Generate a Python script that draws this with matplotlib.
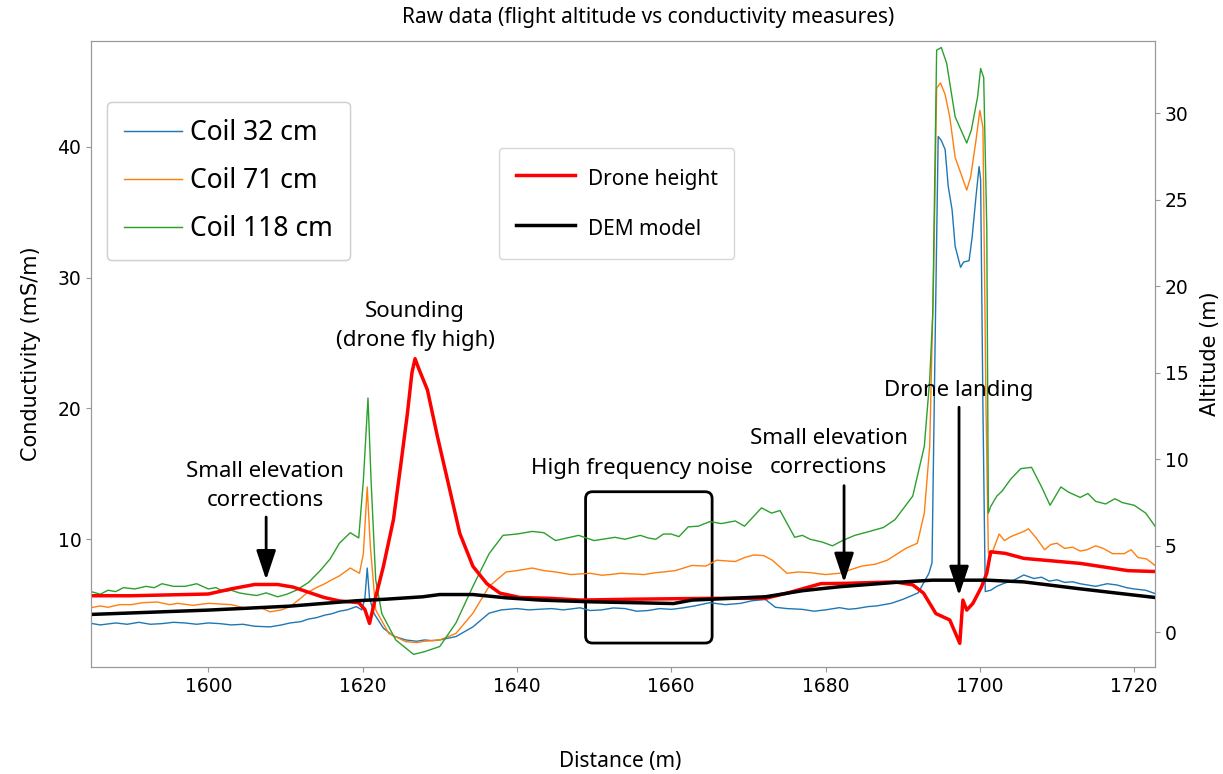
import numpy as np
import matplotlib
matplotlib.use('Agg')
import matplotlib.pyplot as plt
from matplotlib.patches import FancyBboxPatch

# ---- data ----
d_c32 = [1584.8, 1586, 1588, 1589.5, 1591, 1592.5, 1594, 1595.5, 1597, 1598.5, 1600, 1601.5, 1603, 1604.5, 1606,
         1608, 1609.5, 1610.6, 1612, 1613, 1614, 1615.1, 1616, 1617, 1618, 1619.2, 1619.9,
         1620.3, 1620.6, 1620.9, 1621.5, 1622.7, 1624, 1625.6, 1627, 1628, 1629, 1630, 1632.1, 1634.3, 1636.4, 1638,
         1640, 1641.5, 1643, 1644.5, 1646, 1648.2, 1649.5, 1651, 1652.5, 1654, 1655.5, 1657, 1658.5, 1660, 1661.5,
         1663, 1665, 1667, 1669, 1670.5, 1672.2, 1673.5, 1675, 1677, 1678.5, 1680, 1681.8, 1683,
         1684, 1685.5, 1686.6, 1688.5, 1690, 1692, 1693.4, 1693.8, 1694.2, 1694.6, 1695.0, 1695.5, 1695.9, 1696.4,
         1696.8, 1697.5, 1697.9, 1698.6, 1699.0, 1699.5, 1699.9, 1700.1, 1700.4, 1700.7, 1701.4, 1702.2, 1703,
         1704.5, 1705.7, 1707, 1708, 1709, 1710, 1711, 1712, 1713, 1714, 1715, 1716.5, 1717.8, 1719, 1720, 1721.5,
         1722.7]
c32 = [3.57, 3.45, 3.6, 3.5, 3.65, 3.5, 3.55, 3.65, 3.6, 3.5, 3.6, 3.55, 3.45, 3.5, 3.35,
       3.3, 3.45, 3.6, 3.7, 3.9, 4.0, 4.2, 4.3, 4.5, 4.6, 4.85, 4.6,
       5.5, 7.8, 5.5, 4.3, 3.2, 2.6, 2.3, 2.2, 2.3, 2.25, 2.3, 2.56, 3.3, 4.35, 4.6,
       4.7, 4.6, 4.65, 4.7, 4.6, 4.76, 4.55, 4.6, 4.75, 4.7, 4.5, 4.55, 4.7, 4.64, 4.75,
       4.9, 5.15, 5.0, 5.1, 5.3, 5.4, 4.8, 4.7, 4.64, 4.5, 4.6, 4.77, 4.65,
       4.7, 4.85, 4.9, 5.1, 5.4, 5.9, 7.4, 8.2, 25.0, 40.8, 40.5, 39.8, 37.0, 35.2,
       32.4, 30.8, 31.2, 31.3, 33.1, 36.2, 38.5, 37.5, 20.0, 6.0, 6.1, 6.4, 6.6,
       6.9, 7.27, 7.0, 7.1, 6.8, 6.9, 6.7, 6.75, 6.6, 6.5, 6.4, 6.6, 6.5, 6.3, 6.2, 6.1,
       5.85]

d_c71 = [1584.8, 1586, 1587, 1588.5, 1590, 1591.5, 1593.4, 1595, 1596, 1598, 1600, 1601.5, 1603, 1605, 1606.5,
         1608, 1609.5, 1610.6, 1612, 1612.8, 1614, 1615.1, 1616, 1617, 1618.4, 1619.6,
         1620.1, 1620.6, 1621.0, 1621.7, 1623.4, 1625.6, 1627, 1628, 1630, 1632.1, 1634.3, 1636.4, 1638.6, 1640,
         1642, 1643.5, 1645, 1647, 1649.5, 1651, 1652, 1653.5, 1655, 1656.5, 1658, 1659, 1660.5, 1662.7, 1664.5,
         1665.9, 1667, 1668.3, 1669.5, 1670.7, 1672, 1673.1, 1675, 1676.5, 1678, 1680, 1681.8,
         1684.7, 1686.5, 1688, 1690.4, 1691.9, 1692.8, 1693.5, 1694.0, 1694.4, 1694.9, 1695.5, 1696.1, 1696.8,
         1697.7, 1698.3, 1698.8, 1699.5, 1700.0, 1700.4, 1700.8, 1701.1, 1701.4, 1702.5, 1703.2, 1704, 1705.7,
         1706.3, 1707.3, 1708.4, 1709.2, 1710, 1711, 1712, 1713, 1713.9, 1715, 1716, 1717.2, 1718.7, 1719.6,
         1720.5, 1721.6, 1722.7]
c71 = [4.77, 4.9, 4.8, 5.0, 5.0, 5.15, 5.2, 5.0, 5.1, 4.95, 5.1, 5.05, 5.0, 4.7, 4.85,
       4.45, 4.6, 4.85, 5.5, 5.9, 6.3, 6.6, 6.9, 7.2, 7.8, 7.4,
       8.9, 14.0, 9.5, 4.6, 2.8, 2.17, 2.1, 2.2, 2.3, 2.8, 4.35, 6.4, 7.5, 7.6,
       7.8, 7.6, 7.5, 7.3, 7.4, 7.25, 7.3, 7.4, 7.35, 7.3, 7.45, 7.5, 7.6, 8.0, 7.95,
       8.4, 8.35, 8.3, 8.6, 8.8, 8.75, 8.4, 7.4, 7.5, 7.45, 7.3, 7.4,
       7.95, 8.1, 8.4, 9.3, 9.7, 12.0, 17.1, 30.0, 44.5, 44.9, 44.0, 42.3, 39.2,
       37.7, 36.7, 37.7, 40.5, 42.8, 41.5, 20.0, 9.0, 8.67, 10.4, 9.9, 10.2, 10.6,
       10.8, 10.1, 9.2, 9.6, 9.7, 9.3, 9.4, 9.1, 9.2, 9.5, 9.3, 8.9, 8.9, 9.2,
       8.6, 8.5, 8.0]

d_c118 = [1584.8, 1586, 1587, 1588, 1589, 1590.5, 1591.9, 1593, 1594, 1595.5, 1597, 1598.5, 1600, 1601, 1602,
          1603, 1604, 1605, 1606.3, 1607.5, 1609, 1610.2, 1611.4, 1613, 1614.5, 1615.8, 1617, 1618.4,
          1619.5, 1620.1, 1620.7, 1621.1, 1621.7, 1622.5, 1624.3, 1626.6, 1628, 1630, 1632.1, 1634.3, 1636.4,
          1638.2, 1640, 1642, 1643.5, 1645, 1646.5, 1648, 1650, 1652.7, 1654, 1656, 1657, 1658, 1659, 1660,
          1661, 1662.2, 1663.5, 1665, 1666.5, 1668.3, 1669.5, 1671.7, 1673, 1674.1, 1676, 1677, 1678, 1679.5,
          1680.9, 1682.2, 1683.8, 1685.7, 1687.5, 1689, 1691.3, 1692.8, 1693.5, 1693.9, 1694.4, 1695.0,
          1695.7, 1696.1, 1696.8, 1697.7, 1698.3, 1698.9, 1699.7, 1700.1, 1700.5, 1700.9, 1701.1, 1701.4,
          1702.2, 1702.9, 1704, 1705.3, 1706.7, 1708, 1709.1, 1710.5, 1711.5, 1713, 1714, 1715, 1716.3, 1717.5,
          1718.5, 1720, 1721.5, 1722.7]
c118 = [6.0, 5.8, 6.1, 6.0, 6.3, 6.2, 6.4, 6.3, 6.6, 6.4, 6.4, 6.6, 6.2, 6.3, 6.0,
        6.1, 5.9, 5.8, 5.7, 5.9, 5.6, 5.8, 6.1, 6.7, 7.6, 8.5, 9.7, 10.5,
        10.1, 14.5, 20.8, 14.5, 6.9, 4.3, 2.3, 1.2, 1.4, 1.8, 3.6, 6.4, 8.9,
        10.3, 10.4, 10.6, 10.5, 9.9, 10.1, 10.3, 9.9, 10.15, 10.0, 10.3, 10.1, 10.0, 10.4, 10.4,
        10.2, 10.95, 11.0, 11.35, 11.2, 11.4, 11.0, 12.4, 12.0, 12.2, 10.15, 10.3, 10.0, 9.8,
        9.5, 9.9, 10.3, 10.6, 10.9, 11.5, 13.3, 17.1, 22.2, 27.3, 47.4, 47.6,
        46.4, 44.9, 42.3, 41.1, 40.3, 41.3, 43.8, 46.0, 45.3, 33.7, 12.0, 12.5,
        13.3, 13.7, 14.6, 15.4, 15.5, 14.0, 12.6, 14.0, 13.6, 13.2, 13.5, 12.9, 12.7, 13.1,
        12.8, 12.6, 12.0, 11.0]

d_drone = [1584.8, 1590, 1595, 1600, 1603, 1606, 1609, 1611, 1613, 1615, 1617, 1619.5, 1620.3, 1620.9, 1621.6,
           1622.7, 1624.0, 1624.9, 1625.8, 1626.4, 1626.8, 1627.3, 1628.4, 1629.7, 1631.0, 1632.6, 1634.3,
           1636.1, 1637.8, 1640.4, 1644.3, 1648.2, 1655, 1665.0, 1672.2, 1675.0, 1679.4, 1682.8, 1689.0,
           1691.3, 1692.7, 1694.3, 1696.1, 1697.4, 1697.8, 1698.3, 1699.1, 1700.2, 1700.9, 1701.4, 1703.3,
           1705.7, 1713, 1719.2, 1722.7]
drone_h = [2.1, 2.1, 2.15, 2.2, 2.5, 2.75, 2.75, 2.6, 2.3, 2.0, 1.8, 1.7, 1.3, 0.5, 1.85,
           3.8, 6.5, 9.5, 12.6, 15.0, 15.8, 15.2, 14.0, 11.3, 8.8, 5.7, 3.8,
           2.8, 2.25, 2.0, 1.95, 1.85, 1.9, 1.95, 1.95, 2.25, 2.8, 2.82, 2.9,
           2.73, 2.25, 1.07, 0.7, -0.65, 1.85, 1.27, 1.66, 2.6, 3.4, 4.64, 4.55,
           4.26, 3.97, 3.55, 3.5]

d_dem = [1584.8, 1600, 1610.6, 1619.2, 1623, 1627.8, 1630, 1634.3, 1638.6, 1643, 1649.5, 1655, 1660.3, 1662.7,
         1672.2, 1677, 1681.8, 1689, 1693.8, 1701, 1705.7, 1713, 1717.8, 1722.7]
dem = [1.02, 1.27, 1.5, 1.81, 1.9, 2.04, 2.17, 2.17, 1.98, 1.85, 1.75, 1.7, 1.65, 1.85,
       2.04, 2.39, 2.62, 2.87, 3.0, 3.0, 2.9, 2.5, 2.25, 2.0]

fig = plt.figure(figsize=(12.23, 7.74), dpi=100)
ax = fig.add_axes([0.0744, 0.1382, 0.8700, 0.8088])
ax2 = ax.twinx()

l1, = ax.plot(d_c32, c32, color='tab:blue', lw=1, label='Coil 32 cm')
l2, = ax.plot(d_c71, c71, color='tab:orange', lw=1, label='Coil 71 cm')
l3, = ax.plot(d_c118, c118, color='tab:green', lw=1, label='Coil 118 cm')
l4, = ax2.plot(d_drone, drone_h, color='red', lw=2.5, label='Drone height')
l5, = ax2.plot(d_dem, dem, color='black', lw=2.5, label='DEM model')

ax.set_xlim(1584.8, 1722.7)
ax.set_ylim(0.23, 48.1)
ax2.set_ylim(-2.02, 34.16)
ax.set_xticks([1600, 1620, 1640, 1660, 1680, 1700, 1720])
ax.set_yticks([10, 20, 30, 40])
ax2.set_yticks([0, 5, 10, 15, 20, 25, 30])

for a in (ax, ax2):
    a.tick_params(labelsize=13.5, color='#999999')
    for s in a.spines.values():
        s.set_color('#999999')

ax.set_ylabel('Conductivity (mS/m)', fontsize=15, labelpad=12)
ax2.set_ylabel('Altitude (m)', fontsize=15, labelpad=8)

afont = ['Noto Sans', 'DejaVu Sans']
fig.text(0.53, 0.977, 'Raw data (flight altitude vs conductivity measures)', fontsize=15,
         family=afont, ha='center', va='center')
fig.text(0.507, 0.016, 'Distance (m)', fontsize=15, family=afont, ha='center', va='center')

leg1 = ax.legend(handles=[l1, l2, l3], loc='upper left', bbox_to_anchor=(0.0875, 0.868),
                 bbox_transform=fig.transFigure, prop={'family': afont, 'size': 19},
                 handlelength=2.2, handletextpad=0.3, labelspacing=0.75, borderpad=0.65,
                 borderaxespad=0)
ax.add_artist(leg1)
ax2.legend(handles=[l4, l5], loc='upper left', bbox_to_anchor=(0.408, 0.809),
           bbox_transform=fig.transFigure, prop={'family': afont, 'size': 15},
           handlelength=2.85, handleheight=1.6, handletextpad=0.6, labelspacing=1.15,
           borderpad=0.8, borderaxespad=0)

# annotations (left axis data coords)
tf = dict(fontsize=16, family=afont, ha='center', va='center', linespacing=1.5)
ax.text(1607.4, 14.1, 'Small elevation\ncorrections', **tf)
ax.text(1626.8, 26.3, 'Sounding\n(drone fly high)', **tf)
ax.text(1656.2, 15.4, 'High frequency noise', **tf)
ax.text(1680.4, 16.6, 'Small elevation\ncorrections', **tf)
ax.text(1697.2, 21.4, 'Drone landing', **tf)

ap = dict(arrowstyle='-|>,head_width=0.3,head_length=0.9', color='black', lw=2, mutation_scale=20,
          shrinkA=0, shrinkB=0)
ax.annotate('', xy=(1607.5, 6.9), xytext=(1607.5, 11.7), arrowprops=ap)
ax.annotate('', xy=(1682.4, 6.7), xytext=(1682.4, 14.1), arrowprops=ap)
ax.annotate('', xy=(1697.3, 5.7), xytext=(1697.3, 20.1), arrowprops=ap)

box = FancyBboxPatch((1649.3, 2.3), 15.6, 11.1, boxstyle='round,pad=0.4,rounding_size=0.9',
                     fill=False, ec='black', lw=2, mutation_aspect=1 / 1.7)
ax.add_patch(box)

fig.savefig('out.png', dpi=100)
